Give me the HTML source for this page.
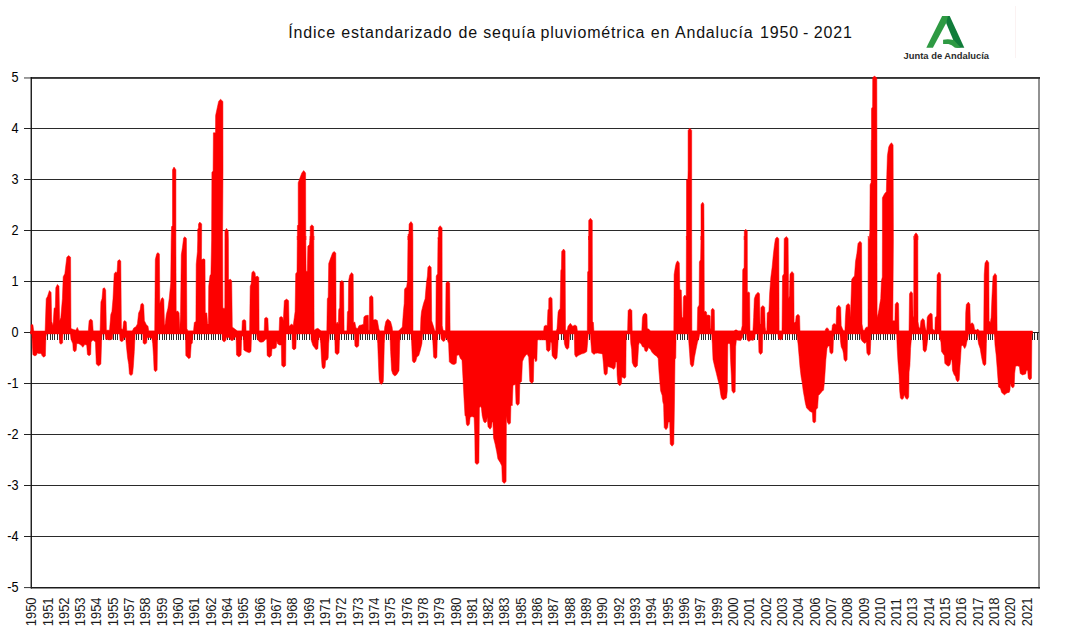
<!DOCTYPE html>
<html><head><meta charset="utf-8"><title>Índice estandarizado de sequía pluviométrica en Andalucía</title>
<style>
html,body{margin:0;padding:0;background:#fff;}
body{width:1072px;height:637px;overflow:hidden;font-family:"Liberation Sans",sans-serif;}
svg{display:block}
text{font-family:"Liberation Sans",sans-serif}
</style></head><body>
<svg width="1072" height="637" viewBox="0 0 1072 637">
<rect width="1072" height="637" fill="#fff"/>
<text id="title" y="37.7" font-size="16" letter-spacing="0.81" fill="#111"><tspan x="288.30">Índice </tspan><tspan x="341.30">estandarizado </tspan><tspan x="458.50">de </tspan><tspan x="483.30">sequía </tspan><tspan x="540.50">pluviométrica </tspan><tspan x="650.80">en </tspan><tspan x="674.95">Andalucía </tspan><tspan x="760.00">1950 </tspan><tspan x="803.10">- </tspan><tspan x="813.80">2021</tspan></text>
<!-- logo -->
<g id="logo">
<path d="M926.3 47.7 L942.1 16.1 L949.7 16.1 L946.2 22.9 L932.9 47.7 Z" fill="#2e9a43"/>
<path d="M948.0 16.1 L949.7 16.1 L964.3 47.7 L956.5 47.7 L946.1 22.9 Z" fill="#107c3a"/>
<path d="M943.1 39.7 Q948.4 38.5 953.8 40.1 L960.8 47.7 L955 47.7 Q951.7 44.7 948.4 44.1 L943.1 44.1 Z" fill="#2e9a43"/>
<path d="M1015.5 6V58" stroke="#fbf2f2" stroke-width="1"/>
<text x="903.6" y="59" font-size="9.2" font-weight="bold" fill="#2b2b2b" textLength="85.5" lengthAdjust="spacingAndGlyphs">Junta de Andalucía</text>
</g>
<!-- plot border -->
<rect x="1038" y="77" width="2" height="511.5" fill="#929292"/>
<rect x="31" y="77" width="1009" height="1.9" fill="#343434"/>
<rect x="24" y="77.2" width="7" height="1.5" fill="#7c7c7c"/>
<!-- gridlines -->
<g stroke="#222" stroke-width="1.2" shape-rendering="crispEdges">
<path d="M31 128.5H1039.4M31 179.5H1039.4M31 230.5H1039.4M31 281.5H1039.4M31 383.5H1039.4M31 434.5H1039.4M31 485.5H1039.4M31 536.5H1039.4" stroke="#2a2a2a" stroke-width="1"/>
</g>
<!-- axes -->
<path d="M31.25 77V588.5" fill="none" stroke="#111" stroke-width="1.35"/>
<rect x="31" y="587" width="1009" height="1.5" fill="#1c1c1c"/>
<rect x="24" y="587.1" width="7" height="1" fill="#333"/>
<path d="M24 128.5H31M24 179.5H31M24 230.5H31M24 281.5H31M24 332.5H31M24 383.5H31M24 434.5H31M24 485.5H31M24 536.5H31" stroke="#222" stroke-width="1.2"/>
<!-- zero line ticks -->
<path d="M31.50 333V339.8M33.83 333V339.8M36.17 333V339.8M38.50 333V339.8M40.83 333V339.8M43.17 333V339.8M45.50 333V339.8M47.83 333V339.8M50.17 333V339.8M52.50 333V339.8M54.83 333V339.8M57.17 333V339.8M59.50 333V339.8M61.83 333V339.8M64.17 333V339.8M66.50 333V339.8M68.83 333V339.8M71.17 333V339.8M73.50 333V339.8M75.83 333V339.8M78.17 333V339.8M80.50 333V339.8M82.83 333V339.8M85.17 333V339.8M87.50 333V339.8M89.83 333V339.8M92.17 333V339.8M94.50 333V339.8M96.83 333V339.8M99.17 333V339.8M101.50 333V339.8M103.83 333V339.8M106.17 333V339.8M108.50 333V339.8M110.83 333V339.8M113.17 333V339.8M115.50 333V339.8M117.83 333V339.8M120.17 333V339.8M122.50 333V339.8M124.83 333V339.8M127.17 333V339.8M129.50 333V339.8M131.83 333V339.8M134.17 333V339.8M136.50 333V339.8M138.83 333V339.8M141.17 333V339.8M143.50 333V339.8M145.83 333V339.8M148.17 333V339.8M150.50 333V339.8M152.83 333V339.8M155.17 333V339.8M157.50 333V339.8M159.83 333V339.8M162.17 333V339.8M164.50 333V339.8M166.83 333V339.8M169.17 333V339.8M171.50 333V339.8M173.83 333V339.8M176.17 333V339.8M178.50 333V339.8M180.83 333V339.8M183.17 333V339.8M185.50 333V339.8M187.83 333V339.8M190.17 333V339.8M192.50 333V339.8M194.83 333V339.8M197.17 333V339.8M199.50 333V339.8M201.83 333V339.8M204.17 333V339.8M206.50 333V339.8M208.83 333V339.8M211.17 333V339.8M213.50 333V339.8M215.83 333V339.8M218.17 333V339.8M220.50 333V339.8M222.83 333V339.8M225.17 333V339.8M227.50 333V339.8M229.83 333V339.8M232.17 333V339.8M234.50 333V339.8M236.83 333V339.8M239.17 333V339.8M241.50 333V339.8M243.83 333V339.8M246.17 333V339.8M248.50 333V339.8M250.83 333V339.8M253.17 333V339.8M255.50 333V339.8M257.83 333V339.8M260.17 333V339.8M262.50 333V339.8M264.83 333V339.8M267.17 333V339.8M269.50 333V339.8M271.83 333V339.8M274.17 333V339.8M276.50 333V339.8M278.83 333V339.8M281.17 333V339.8M283.50 333V339.8M285.83 333V339.8M288.17 333V339.8M290.50 333V339.8M292.83 333V339.8M295.17 333V339.8M297.50 333V339.8M299.83 333V339.8M302.17 333V339.8M304.50 333V339.8M306.83 333V339.8M309.17 333V339.8M311.50 333V339.8M313.83 333V339.8M316.17 333V339.8M318.50 333V339.8M320.83 333V339.8M323.17 333V339.8M325.50 333V339.8M327.83 333V339.8M330.17 333V339.8M332.50 333V339.8M334.83 333V339.8M337.17 333V339.8M339.50 333V339.8M341.83 333V339.8M344.17 333V339.8M346.50 333V339.8M348.83 333V339.8M351.17 333V339.8M353.50 333V339.8M355.83 333V339.8M358.17 333V339.8M360.50 333V339.8M362.83 333V339.8M365.17 333V339.8M367.50 333V339.8M369.83 333V339.8M372.17 333V339.8M374.50 333V339.8M376.83 333V339.8M379.17 333V339.8M381.50 333V339.8M383.83 333V339.8M386.17 333V339.8M388.50 333V339.8M390.83 333V339.8M393.17 333V339.8M395.50 333V339.8M397.83 333V339.8M400.17 333V339.8M402.50 333V339.8M404.83 333V339.8M407.17 333V339.8M409.50 333V339.8M411.83 333V339.8M414.17 333V339.8M416.50 333V339.8M418.83 333V339.8M421.17 333V339.8M423.50 333V339.8M425.83 333V339.8M428.17 333V339.8M430.50 333V339.8M432.83 333V339.8M435.17 333V339.8M437.50 333V339.8M439.83 333V339.8M442.17 333V339.8M444.50 333V339.8M446.83 333V339.8M449.17 333V339.8M451.50 333V339.8M453.83 333V339.8M456.17 333V339.8M458.50 333V339.8M460.83 333V339.8M463.17 333V339.8M465.50 333V339.8M467.83 333V339.8M470.17 333V339.8M472.50 333V339.8M474.83 333V339.8M477.17 333V339.8M479.50 333V339.8M481.83 333V339.8M484.17 333V339.8M486.50 333V339.8M488.83 333V339.8M491.17 333V339.8M493.50 333V339.8M495.83 333V339.8M498.17 333V339.8M500.50 333V339.8M502.83 333V339.8M505.17 333V339.8M507.50 333V339.8M509.83 333V339.8M512.17 333V339.8M514.50 333V339.8M516.83 333V339.8M519.17 333V339.8M521.50 333V339.8M523.83 333V339.8M526.17 333V339.8M528.50 333V339.8M530.83 333V339.8M533.17 333V339.8M535.50 333V339.8M537.83 333V339.8M540.17 333V339.8M542.50 333V339.8M544.83 333V339.8M547.17 333V339.8M549.50 333V339.8M551.83 333V339.8M554.17 333V339.8M556.50 333V339.8M558.83 333V339.8M561.17 333V339.8M563.50 333V339.8M565.83 333V339.8M568.17 333V339.8M570.50 333V339.8M572.83 333V339.8M575.17 333V339.8M577.50 333V339.8M579.83 333V339.8M582.17 333V339.8M584.50 333V339.8M586.83 333V339.8M589.17 333V339.8M591.50 333V339.8M593.83 333V339.8M596.17 333V339.8M598.50 333V339.8M600.83 333V339.8M603.17 333V339.8M605.50 333V339.8M607.83 333V339.8M610.17 333V339.8M612.50 333V339.8M614.83 333V339.8M617.17 333V339.8M619.50 333V339.8M621.83 333V339.8M624.17 333V339.8M626.50 333V339.8M628.83 333V339.8M631.17 333V339.8M633.50 333V339.8M635.83 333V339.8M638.17 333V339.8M640.50 333V339.8M642.83 333V339.8M645.17 333V339.8M647.50 333V339.8M649.83 333V339.8M652.17 333V339.8M654.50 333V339.8M656.83 333V339.8M659.17 333V339.8M661.50 333V339.8M663.83 333V339.8M666.17 333V339.8M668.50 333V339.8M670.83 333V339.8M673.17 333V339.8M675.50 333V339.8M677.83 333V339.8M680.17 333V339.8M682.50 333V339.8M684.83 333V339.8M687.17 333V339.8M689.50 333V339.8M691.83 333V339.8M694.17 333V339.8M696.50 333V339.8M698.83 333V339.8M701.17 333V339.8M703.50 333V339.8M705.83 333V339.8M708.17 333V339.8M710.50 333V339.8M712.83 333V339.8M715.17 333V339.8M717.50 333V339.8M719.83 333V339.8M722.17 333V339.8M724.50 333V339.8M726.83 333V339.8M729.17 333V339.8M731.50 333V339.8M733.83 333V339.8M736.17 333V339.8M738.50 333V339.8M740.83 333V339.8M743.17 333V339.8M745.50 333V339.8M747.83 333V339.8M750.17 333V339.8M752.50 333V339.8M754.83 333V339.8M757.17 333V339.8M759.50 333V339.8M761.83 333V339.8M764.17 333V339.8M766.50 333V339.8M768.83 333V339.8M771.17 333V339.8M773.50 333V339.8M775.83 333V339.8M778.17 333V339.8M780.50 333V339.8M782.83 333V339.8M785.17 333V339.8M787.50 333V339.8M789.83 333V339.8M792.17 333V339.8M794.50 333V339.8M796.83 333V339.8M799.17 333V339.8M801.50 333V339.8M803.83 333V339.8M806.17 333V339.8M808.50 333V339.8M810.83 333V339.8M813.17 333V339.8M815.50 333V339.8M817.83 333V339.8M820.17 333V339.8M822.50 333V339.8M824.83 333V339.8M827.17 333V339.8M829.50 333V339.8M831.83 333V339.8M834.17 333V339.8M836.50 333V339.8M838.83 333V339.8M841.17 333V339.8M843.50 333V339.8M845.83 333V339.8M848.17 333V339.8M850.50 333V339.8M852.83 333V339.8M855.17 333V339.8M857.50 333V339.8M859.83 333V339.8M862.17 333V339.8M864.50 333V339.8M866.83 333V339.8M869.17 333V339.8M871.50 333V339.8M873.83 333V339.8M876.17 333V339.8M878.50 333V339.8M880.83 333V339.8M883.17 333V339.8M885.50 333V339.8M887.83 333V339.8M890.17 333V339.8M892.50 333V339.8M894.83 333V339.8M897.17 333V339.8M899.50 333V339.8M901.83 333V339.8M904.17 333V339.8M906.50 333V339.8M908.83 333V339.8M911.17 333V339.8M913.50 333V339.8M915.83 333V339.8M918.17 333V339.8M920.50 333V339.8M922.83 333V339.8M925.17 333V339.8M927.50 333V339.8M929.83 333V339.8M932.17 333V339.8M934.50 333V339.8M936.83 333V339.8M939.17 333V339.8M941.50 333V339.8M943.83 333V339.8M946.17 333V339.8M948.50 333V339.8M950.83 333V339.8M953.17 333V339.8M955.50 333V339.8M957.83 333V339.8M960.17 333V339.8M962.50 333V339.8M964.83 333V339.8M967.17 333V339.8M969.50 333V339.8M971.83 333V339.8M974.17 333V339.8M976.50 333V339.8M978.83 333V339.8M981.17 333V339.8M983.50 333V339.8M985.83 333V339.8M988.17 333V339.8M990.50 333V339.8M992.83 333V339.8M995.17 333V339.8M997.50 333V339.8M999.83 333V339.8M1002.17 333V339.8M1004.50 333V339.8M1006.83 333V339.8M1009.17 333V339.8M1011.50 333V339.8M1013.83 333V339.8M1016.17 333V339.8M1018.50 333V339.8M1020.83 333V339.8M1023.17 333V339.8M1025.50 333V339.8M1027.83 333V339.8M1030.17 333V339.8M1032.50 333V339.8M1034.83 333V339.8M1037.17 333V339.8" stroke="#2a2a2a" stroke-width="1" shape-rendering="crispEdges"/>
<path d="M31 332.5H1039" stroke="#222" stroke-width="1.2"/>
<!-- data -->
<g fill="#fd0000" stroke="#fd0000" stroke-width="0.5" stroke-linejoin="round">
<path d="M30.5 331H1032.5V333.9H30.5Z"/>
<path d="M31.0 332.5 L31.0 324.7 L32.9 324.7 L33.8 331.5 L45.1 331.5 L46.2 298.8 L47.5 296.4 L49.4 290.6 L51.1 292.5 L51.7 321.6 L53.0 325.5 L54.1 308.2 L55.3 307.4 L55.8 287.8 L57.4 284.4 L59.0 286.2 L59.6 320.8 L60.8 317.6 L62.4 298.8 L63.2 276.8 L64.8 273.7 L66.8 257.2 L68.7 255.6 L70.6 257.2 L71.0 328.6 L73.4 329.4 L75.8 330.2 L77.3 327.4 L78.9 331.0 L88.3 331.0 L89.1 320.8 L90.7 318.9 L92.5 320.8 L93.2 331.0 L100.1 331.0 L100.9 301.9 L102.0 298.8 L102.9 288.6 L104.5 287.8 L105.7 290.2 L106.4 330.2 L109.5 330.2 L110.8 314.5 L111.9 311.4 L113.0 298.8 L114.2 273.7 L115.8 271.8 L117.0 272.9 L117.7 261.1 L119.2 259.6 L120.8 261.1 L121.4 328.6 L122.8 329.4 L123.6 321.6 L124.9 320.5 L126.3 322.0 L126.8 331.0 L132.3 331.0 L133.8 327.9 L135.9 326.8 L137.4 323.9 L138.6 312.9 L140.1 309.8 L140.9 304.3 L142.5 303.2 L143.7 305.1 L144.4 320.8 L146.4 324.7 L148.0 326.3 L148.8 331.0 L154.7 331.0 L155.3 259.6 L156.6 254.1 L157.9 252.6 L159.4 254.1 L159.8 303.5 L161.3 298.8 L162.6 297.6 L163.8 299.6 L164.5 325.5 L165.2 323.9 L166.3 314.5 L167.9 308.2 L169.2 298.8 L170.7 283.1 L171.2 240.0 L171.5 226.7 L172.5 225.6 L172.5 169.8 L174.0 167.0 L175.9 169.8 L175.9 240.0 L176.2 311.4 L177.8 311.1 L179.1 312.9 L179.7 330.2 L180.5 314.5 L181.3 254.8 L182.5 247.0 L183.6 237.9 L184.9 236.8 L186.4 238.4 L186.9 328.6 L188.0 331.0 L193.5 331.0 L194.3 322.4 L195.9 321.6 L196.2 264.3 L197.4 251.7 L197.7 240.0 L197.7 229.2 L198.5 227.9 L198.5 224.0 L199.8 222.1 L201.7 224.0 L201.5 259.6 L201.8 259.6 L203.7 258.8 L205.0 259.6 L205.3 312.9 L206.8 312.9 L207.6 323.9 L208.4 323.9 L208.7 286.2 L210.0 275.2 L210.9 274.5 L211.6 240.0 L211.9 172.2 L213.1 171.1 L213.4 132.8 L213.4 132.8 L215.5 132.8 L215.6 115.5 L218.6 101.4 L220.5 99.2 L222.9 101.4 L223.0 170.0 L222.6 236.0 L222.9 308.2 L224.8 308.2 L224.9 236.0 L224.9 231.1 L226.5 228.4 L228.2 231.1 L228.4 240.0 L228.5 280.0 L230.4 279.2 L231.7 280.8 L232.3 327.1 L237.5 331.0 L241.9 331.0 L242.3 320.8 L244.1 319.5 L245.8 320.8 L246.1 331.0 L249.6 331.0 L250.2 286.2 L251.1 283.9 L251.9 272.4 L253.5 270.9 L255.1 272.9 L255.5 277.1 L257.4 276.0 L258.8 277.6 L259.1 331.0 L264.2 331.0 L264.6 318.4 L266.2 317.2 L267.9 318.4 L268.4 331.0 L279.1 331.0 L279.6 317.6 L281.1 316.4 L282.7 317.6 L283.3 320.8 L284.3 300.7 L286.6 299.1 L288.6 300.7 L289.1 326.3 L291.6 323.9 L293.2 325.5 L294.3 317.6 L295.1 311.4 L295.7 273.7 L297.0 272.1 L297.3 236.0 L297.4 240.0 L297.4 225.6 L298.2 224.8 L298.2 182.7 L301.8 173.0 L303.7 170.6 L305.6 173.0 L305.8 240.0 L305.8 236.0 L306.1 271.3 L307.3 271.3 L307.8 246.2 L309.4 244.6 L310.2 236.0 L310.2 240.0 L310.2 226.4 L311.9 224.8 L313.6 226.4 L313.8 240.0 L313.8 236.0 L314.1 330.2 L316.0 328.9 L317.9 328.3 L320.2 330.2 L321.5 331.0 L326.8 331.0 L327.3 298.8 L328.2 297.2 L328.7 263.5 L330.1 259.6 L331.4 256.1 L332.5 253.0 L334.0 251.4 L335.8 253.0 L336.1 323.9 L337.2 322.0 L338.3 323.9 L338.7 309.8 L339.7 307.4 L340.0 282.3 L341.9 280.4 L343.6 282.3 L344.1 331.0 L346.9 331.0 L347.4 312.1 L348.3 310.6 L348.6 280.8 L349.7 275.2 L351.6 272.6 L353.2 274.5 L353.5 322.4 L354.8 322.0 L356.0 327.9 L357.6 328.6 L359.1 325.5 L361.5 324.9 L363.4 324.2 L363.9 316.9 L365.1 315.8 L367.0 315.3 L367.0 315.3 L368.3 315.3 L368.6 330.2 L369.2 330.2 L369.5 297.2 L371.2 295.4 L373.0 297.2 L373.3 320.0 L375.6 319.5 L377.4 320.5 L378.8 328.6 L379.6 331.0 L384.3 331.0 L384.7 327.1 L385.8 321.6 L387.7 318.9 L390.6 321.6 L392.1 327.1 L392.6 331.0 L398.4 331.0 L399.2 330.2 L402.3 327.1 L403.4 311.4 L404.2 303.5 L404.5 289.4 L405.5 287.8 L406.6 287.2 L407.5 280.0 L408.0 236.0 L408.1 240.0 L408.1 234.2 L408.9 233.4 L409.1 224.0 L411.0 221.6 L412.7 224.0 L412.9 240.0 L413.0 331.0 L420.4 331.0 L420.9 317.6 L421.5 311.4 L423.5 303.5 L425.1 298.8 L426.4 283.1 L427.4 276.0 L427.9 267.4 L429.5 265.5 L431.2 267.4 L431.7 320.8 L433.7 327.1 L434.8 331.0 L435.8 331.0 L436.2 276.0 L437.6 273.7 L438.0 237.6 L437.5 238.1 L438.4 237.3 L438.4 227.9 L440.2 225.7 L442.1 227.9 L442.1 240.0 L442.2 325.5 L443.1 330.2 L445.5 331.0 L446.0 283.1 L447.9 281.2 L449.7 283.1 L450.1 331.0 L543.6 331.0 L544.1 326.3 L545.7 325.2 L547.2 325.8 L547.9 309.8 L548.7 309.0 L548.8 298.5 L550.4 296.9 L552.1 298.5 L552.6 331.0 L556.2 331.0 L557.0 328.6 L558.1 312.1 L559.0 309.8 L560.1 309.0 L560.8 270.5 L561.4 269.0 L561.7 251.4 L563.6 249.0 L565.1 251.1 L565.5 330.2 L567.2 330.2 L568.0 326.3 L570.3 323.3 L572.7 326.3 L575.0 324.9 L576.8 326.3 L577.4 331.0 L587.3 331.0 L587.6 272.1 L588.4 270.9 L588.5 236.0 L588.7 240.0 L588.7 220.4 L590.4 218.2 L592.3 220.4 L592.3 240.0 L592.5 321.6 L593.4 322.4 L593.9 331.0 L627.6 331.0 L628.1 310.6 L630.0 308.7 L631.9 310.6 L632.2 331.0 L641.8 331.0 L642.4 317.6 L643.3 314.5 L645.2 313.1 L647.0 314.5 L647.3 328.6 L648.8 329.1 L650.4 331.0 L673.8 331.0 L674.1 274.5 L675.5 265.8 L676.3 262.7 L677.6 260.8 L679.3 263.0 L679.8 289.4 L681.3 290.2 L682.0 317.6 L683.1 317.6 L683.4 296.9 L684.9 295.0 L686.2 296.4 L686.4 236.0 L686.5 240.0 L686.5 180.0 L687.9 179.2 L688.1 170.0 L688.1 130.4 L689.8 128.1 L691.7 130.4 L691.7 170.0 L691.7 236.0 L691.9 331.0 L697.2 331.0 L697.7 307.4 L699.1 305.1 L699.4 261.9 L700.6 259.6 L701.0 236.0 L701.0 240.0 L701.0 204.7 L702.1 202.8 L703.0 202.5 L703.9 204.4 L704.1 240.0 L704.3 312.1 L705.2 311.1 L706.5 312.1 L706.8 315.3 L708.5 315.0 L710.1 315.8 L710.5 328.6 L711.0 328.6 L711.2 310.1 L712.7 308.2 L714.3 310.1 L714.6 331.0 L734.1 331.0 L735.2 329.9 L736.8 329.9 L737.9 331.0 L741.1 331.0 L742.2 325.5 L742.7 269.8 L744.1 267.4 L744.3 236.0 L744.3 240.0 L744.3 231.1 L745.7 229.2 L747.3 231.1 L747.3 240.0 L747.4 292.5 L748.5 291.9 L749.6 292.8 L750.0 331.0 L752.9 331.0 L753.6 317.6 L754.3 298.8 L755.6 294.9 L758.0 292.2 L759.5 293.8 L760.0 323.9 L760.6 323.9 L760.9 307.4 L763.0 305.6 L764.7 307.4 L765.2 327.1 L765.8 331.0 L766.8 331.0 L767.2 312.9 L768.9 311.4 L769.6 294.1 L770.8 277.6 L772.1 267.4 L773.3 254.8 L774.4 245.4 L775.4 238.7 L777.1 236.9 L778.8 238.7 L779.1 331.0 L782.0 331.0 L782.5 276.0 L783.9 273.7 L784.2 238.7 L786.2 236.5 L788.1 238.4 L788.6 298.8 L789.4 295.7 L790.0 274.0 L792.0 271.5 L793.8 273.7 L794.1 323.1 L795.6 321.6 L796.1 316.1 L798.0 314.2 L799.6 316.1 L800.0 331.0 L825.1 331.0 L825.6 328.9 L827.0 327.7 L828.5 328.9 L828.9 331.0 L831.8 331.0 L832.4 325.0 L834.1 323.4 L836.1 324.7 L836.6 307.8 L838.8 305.2 L840.7 307.4 L841.2 325.5 L842.4 328.6 L843.5 330.7 L844.9 330.7 L845.4 317.6 L846.2 305.4 L848.2 303.5 L849.8 305.1 L850.3 317.6 L850.8 306.6 L851.7 279.6 L852.9 277.6 L854.5 276.0 L855.5 261.4 L856.9 253.3 L858.0 243.4 L860.0 241.2 L861.6 243.1 L862.0 323.9 L863.1 330.2 L864.7 330.2 L865.5 327.9 L867.1 326.8 L868.0 327.4 L868.2 236.0 L869.0 240.0 L869.8 232.6 L870.1 184.8 L871.1 182.4 L871.2 140.0 L871.5 139.9 L871.5 108.5 L872.6 106.9 L872.7 77.8 L874.3 76.0 L876.8 77.8 L877.0 170.0 L877.0 236.0 L877.1 317.6 L878.1 313.7 L878.9 309.8 L879.6 305.1 L880.7 298.8 L881.4 280.8 L882.3 277.1 L882.4 240.0 L882.4 197.8 L884.7 193.4 L886.3 191.8 L886.8 174.5 L887.4 155.7 L888.7 147.1 L889.9 144.4 L891.5 142.8 L893.1 145.0 L893.4 240.0 L892.8 320.8 L894.9 320.8 L895.2 304.3 L897.1 301.9 L898.6 303.8 L899.0 331.0 L909.0 331.0 L909.5 293.8 L911.0 291.4 L912.6 293.3 L913.1 317.6 L913.7 316.1 L913.9 236.0 L914.3 240.0 L914.3 235.0 L916.0 232.8 L917.7 235.0 L917.7 240.0 L917.8 236.0 L918.0 321.6 L918.9 327.1 L920.0 328.6 L920.9 320.8 L922.8 318.4 L924.4 320.3 L925.2 327.1 L926.0 330.2 L926.7 330.2 L927.2 317.6 L928.3 315.3 L930.7 312.9 L932.2 314.5 L932.7 328.6 L933.8 330.2 L934.9 330.2 L935.2 317.6 L936.6 316.1 L937.1 274.9 L939.0 272.1 L940.7 274.5 L941.0 331.0 L965.4 331.0 L965.7 312.9 L966.3 304.6 L968.4 302.1 L969.9 304.3 L970.4 323.9 L972.3 322.8 L973.8 324.7 L974.6 329.4 L976.2 330.2 L977.8 329.1 L979.3 331.0 L983.7 331.0 L984.2 274.5 L985.0 263.0 L986.9 260.0 L988.8 262.7 L989.1 320.8 L990.3 322.4 L991.1 317.6 L992.0 296.0 L993.0 276.5 L995.0 273.4 L996.6 275.6 L997.1 331.0 L997.1 332.5 Z"/>
<path d="M31.8 332.5 L31.8 332.5 L32.3 343.7 L32.9 354.7 L34.9 355.9 L36.6 355.0 L37.1 353.1 L38.9 353.6 L40.7 353.4 L41.5 354.1 L42.0 355.6 L43.6 357.2 L45.4 355.9 L45.9 337.4 L46.7 332.5 L59.3 332.5 L59.6 342.9 L60.8 344.3 L62.6 342.9 L63.0 332.5 L70.2 332.5 L71.0 339.3 L72.8 343.7 L73.2 350.3 L74.7 351.9 L76.2 350.3 L76.8 343.4 L78.9 343.7 L81.2 345.3 L82.8 347.3 L84.8 344.5 L86.7 345.0 L87.4 354.4 L89.1 355.8 L90.7 354.4 L91.1 342.1 L93.0 339.9 L95.4 342.1 L96.3 364.1 L98.5 366.0 L100.9 364.1 L101.7 337.4 L102.4 332.5 L104.8 332.5 L105.6 339.3 L109.5 339.9 L112.3 339.3 L113.0 332.5 L119.4 332.5 L120.0 340.6 L121.8 341.7 L123.3 340.6 L124.0 337.4 L125.7 337.4 L126.3 345.3 L127.6 357.8 L128.7 364.4 L129.4 373.9 L131.0 375.6 L132.6 373.9 L133.4 365.7 L134.3 351.6 L135.2 332.5 L142.8 332.5 L143.1 343.1 L144.8 344.3 L146.6 343.1 L147.2 337.7 L149.5 337.4 L151.9 338.4 L152.7 343.7 L153.5 356.3 L154.1 370.1 L155.5 371.8 L157.1 370.1 L157.6 332.5 L185.5 332.5 L185.8 355.5 L187.2 357.1 L188.8 358.8 L190.4 357.5 L191.2 344.5 L192.4 342.9 L192.9 332.5 L221.9 332.5 L222.6 340.6 L224.1 342.0 L225.8 340.6 L226.5 337.4 L229.6 337.4 L230.4 339.8 L232.0 340.7 L233.7 339.8 L234.3 337.4 L236.1 337.1 L236.5 355.0 L238.9 356.9 L241.1 355.0 L241.7 336.2 L243.3 335.9 L243.8 350.0 L246.1 351.6 L249.2 352.8 L251.0 351.6 L251.6 332.5 L256.3 332.5 L257.1 339.0 L259.4 341.8 L261.0 342.3 L263.4 341.8 L265.7 339.3 L266.8 339.3 L267.1 355.5 L269.3 357.4 L271.5 355.5 L272.0 348.7 L274.4 348.7 L276.2 347.6 L276.9 340.9 L277.5 343.7 L279.4 345.0 L281.3 345.0 L281.7 365.4 L283.8 367.2 L285.7 365.4 L286.0 332.5 L291.9 332.5 L292.3 348.4 L294.0 350.0 L295.9 348.4 L296.4 332.5 L310.8 332.5 L311.3 340.6 L312.8 345.3 L314.4 347.6 L316.0 349.7 L317.9 348.7 L318.5 337.7 L319.9 337.4 L320.7 343.7 L321.5 359.4 L322.1 367.2 L323.5 369.0 L325.1 367.2 L325.6 360.5 L327.4 359.7 L328.2 357.8 L328.7 343.7 L329.6 332.5 L334.7 332.5 L335.1 352.8 L337.2 354.7 L339.1 352.8 L339.7 332.5 L354.4 332.5 L354.9 345.9 L356.8 347.5 L358.7 345.9 L359.3 332.5 L376.7 332.5 L377.7 343.7 L378.3 359.4 L379.1 379.8 L380.0 382.9 L381.1 384.4 L382.7 382.9 L383.3 381.4 L383.6 373.5 L384.3 343.7 L385.1 332.5 L389.9 332.5 L390.6 351.6 L391.6 370.4 L392.9 374.3 L394.9 376.0 L396.8 374.5 L399.0 370.7 L399.7 343.7 L400.3 332.5 L411.1 332.5 L411.8 346.8 L412.4 361.0 L414.1 363.0 L415.8 361.3 L416.9 357.1 L418.8 355.5 L420.4 350.0 L421.9 343.7 L422.7 332.5 L432.3 332.5 L432.9 343.7 L433.6 357.1 L435.3 358.8 L436.9 357.2 L437.3 337.4 L438.0 332.5 L440.5 332.5 L441.1 339.0 L443.1 341.5 L445.0 340.6 L445.5 337.4 L447.1 339.0 L448.6 343.7 L449.3 361.8 L451.0 363.5 L452.6 364.3 L454.1 364.6 L456.2 363.3 L456.8 355.5 L458.9 354.7 L460.4 358.6 L462.0 360.2 L462.8 375.1 L464.0 398.6 L465.0 415.9 L465.7 415.7 L466.4 424.3 L467.8 426.1 L469.5 423.9 L470.1 417.3 L472.0 416.5 L474.1 417.3 L474.8 436.1 L475.1 462.8 L477.0 464.5 L478.9 462.8 L479.4 407.9 L480.3 406.3 L481.4 407.9 L482.2 415.7 L483.5 421.2 L485.0 422.9 L486.6 421.4 L487.2 417.3 L488.0 426.7 L490.1 429.2 L491.6 427.0 L492.1 422.0 L492.9 422.0 L493.5 437.7 L495.1 444.0 L496.7 451.8 L497.9 458.9 L500.3 462.8 L501.8 465.9 L502.3 481.6 L504.2 483.4 L506.1 481.6 L506.4 415.7 L507.2 422.0 L508.9 424.5 L510.5 422.9 L510.9 406.3 L512.0 404.7 L512.2 405.7 L513.0 385.3 L515.4 384.5 L516.0 403.4 L517.7 405.4 L519.3 403.5 L519.8 382.9 L521.6 381.4 L522.4 361.8 L524.0 357.8 L525.6 355.5 L527.1 353.9 L528.7 357.1 L529.8 381.4 L531.9 383.4 L533.4 381.5 L533.9 359.4 L535.0 357.8 L535.0 360.2 L535.8 361.8 L536.9 360.2 L537.4 340.6 L538.1 339.8 L546.0 339.9 L546.5 350.0 L548.4 351.7 L550.1 350.0 L550.5 342.1 L551.6 342.9 L552.1 355.5 L553.8 358.1 L555.4 359.6 L557.0 357.8 L557.8 346.8 L558.5 332.5 L563.7 332.5 L564.4 343.7 L565.5 347.6 L567.2 349.4 L568.9 347.6 L569.4 337.4 L569.9 332.5 L574.2 332.5 L574.7 354.7 L576.1 357.2 L578.2 355.6 L581.3 354.1 L584.5 353.1 L586.8 351.6 L587.4 345.3 L588.4 332.5 L590.3 332.5 L591.0 343.7 L591.7 352.3 L593.9 354.5 L595.5 353.3 L597.8 353.1 L602.5 353.9 L603.5 364.9 L604.1 373.5 L605.6 375.3 L607.2 373.5 L607.7 366.5 L610.0 367.2 L611.9 368.0 L613.8 369.3 L615.2 367.2 L615.7 361.9 L616.8 361.9 L617.1 375.1 L617.9 383.7 L619.8 385.8 L621.5 383.7 L621.8 376.7 L622.9 377.6 L624.5 378.4 L625.8 377.0 L626.2 332.5 L630.1 332.5 L630.8 343.7 L631.6 349.2 L632.2 362.5 L633.9 366.5 L635.5 367.4 L637.4 365.7 L637.8 359.4 L638.6 345.3 L639.4 342.4 L641.0 343.7 L642.5 346.8 L644.1 347.2 L644.9 350.8 L646.5 351.7 L647.7 350.0 L648.4 347.6 L650.4 349.2 L652.0 352.3 L654.3 354.7 L656.7 356.3 L658.2 358.6 L659.0 372.0 L659.8 381.4 L660.6 390.8 L662.2 395.5 L662.8 401.8 L663.6 404.7 L663.8 412.6 L664.2 427.5 L666.0 429.7 L667.7 427.6 L668.3 422.0 L669.7 422.0 L670.2 444.0 L672.1 446.2 L673.8 444.1 L674.5 400.0 L675.0 359.4 L675.8 357.8 L676.1 332.5 L688.2 332.5 L688.9 343.7 L689.6 353.1 L690.3 364.1 L692.0 367.1 L693.6 365.1 L694.4 357.8 L695.9 350.0 L697.5 342.1 L699.1 337.4 L699.9 332.5 L711.6 332.5 L712.3 343.7 L713.0 359.4 L714.8 367.2 L716.4 373.5 L717.9 379.8 L719.5 386.1 L720.6 393.9 L721.4 397.9 L723.1 399.9 L725.0 398.8 L726.5 398.0 L727.3 390.8 L727.8 344.5 L728.9 342.9 L730.0 344.5 L730.5 359.4 L731.3 375.1 L731.9 390.8 L733.6 393.3 L735.2 391.6 L735.7 346.8 L736.4 339.9 L740.7 340.6 L742.6 337.4 L743.2 332.5 L746.3 332.5 L747.0 339.8 L748.9 341.5 L750.9 339.9 L753.2 340.4 L754.8 337.4 L755.4 332.5 L758.4 332.5 L758.9 352.3 L760.6 354.5 L762.4 352.5 L762.8 332.5 L777.7 332.5 L778.4 338.7 L780.2 339.9 L782.3 339.0 L783.1 332.5 L796.7 332.5 L797.2 337.4 L798.0 343.7 L799.1 356.3 L800.0 367.2 L801.1 376.7 L802.2 382.9 L803.2 390.8 L804.3 397.1 L805.4 403.4 L806.6 408.1 L808.2 409.6 L809.8 411.2 L811.3 412.0 L812.4 412.8 L812.8 421.4 L814.2 423.1 L815.7 421.6 L816.0 409.6 L817.6 408.1 L818.4 395.5 L820.0 393.9 L821.1 392.4 L822.0 391.6 L823.6 390.0 L824.4 382.2 L825.1 372.0 L825.9 359.4 L827.0 348.4 L828.1 346.1 L829.4 346.1 L829.9 352.3 L831.4 354.1 L833.0 352.5 L833.5 337.4 L834.6 332.5 L839.8 332.5 L840.4 340.6 L841.2 346.8 L842.7 350.0 L843.5 353.9 L844.0 359.4 L845.6 361.6 L847.1 359.6 L847.6 332.5 L860.3 332.5 L860.8 339.0 L862.4 341.4 L864.7 343.4 L866.3 342.1 L866.9 353.1 L868.6 355.6 L870.2 354.1 L870.7 343.7 L871.0 332.5 L896.6 332.5 L897.2 348.4 L898.0 362.5 L899.0 375.1 L899.7 390.8 L900.4 397.9 L901.9 399.6 L903.5 398.2 L904.1 394.7 L904.8 396.3 L905.9 398.6 L907.4 399.3 L908.7 397.1 L909.1 372.0 L909.9 365.7 L910.6 348.4 L911.5 337.4 L912.1 332.5 L922.5 332.5 L923.1 350.0 L924.9 352.2 L926.4 350.1 L927.2 343.7 L928.3 332.5 L939.0 332.5 L939.6 337.4 L940.9 342.1 L941.5 351.6 L943.2 353.9 L944.3 355.5 L944.8 363.3 L946.4 364.9 L948.2 366.3 L950.0 364.9 L951.1 360.2 L951.9 359.4 L952.5 370.4 L953.9 374.3 L955.5 376.7 L956.1 379.8 L957.7 381.9 L959.2 380.0 L959.9 367.2 L960.5 359.4 L961.3 346.1 L962.9 345.3 L963.6 346.8 L964.7 348.6 L966.0 346.1 L966.8 342.1 L968.0 337.4 L968.7 332.5 L976.5 332.5 L977.8 339.0 L978.5 343.7 L980.1 348.4 L981.4 356.3 L982.5 361.8 L983.0 364.1 L984.4 365.8 L985.9 364.1 L986.4 343.7 L986.9 332.5 L993.9 332.5 L994.6 337.4 L995.0 345.3 L996.1 354.7 L997.1 367.2 L997.9 378.2 L998.5 386.9 L1000.5 388.4 L1001.6 392.4 L1002.9 393.6 L1004.5 394.9 L1006.0 393.6 L1007.6 392.7 L1009.2 392.4 L1010.0 390.0 L1010.4 382.2 L1011.0 386.1 L1012.8 388.1 L1014.2 386.2 L1014.7 373.5 L1015.5 366.5 L1017.0 365.7 L1019.4 366.5 L1020.2 373.5 L1022.5 374.9 L1025.7 373.9 L1026.4 370.4 L1027.7 370.4 L1028.2 378.2 L1029.9 380.0 L1031.5 378.2 L1031.9 332.5 L1031.9 332.5 Z"/>
</g>
<!-- y labels -->
<g font-size="14.4" text-anchor="end"><text transform="translate(18.6,82.1) scale(0.88,1)">5</text><text transform="translate(18.6,133.1) scale(0.88,1)">4</text><text transform="translate(18.6,184.1) scale(0.88,1)">3</text><text transform="translate(18.6,235.1) scale(0.88,1)">2</text><text transform="translate(18.6,286.1) scale(0.88,1)">1</text><text transform="translate(18.6,337.1) scale(0.88,1)">0</text><text transform="translate(18.6,388.1) scale(0.88,1)">-1</text><text transform="translate(18.6,439.1) scale(0.88,1)">-2</text><text transform="translate(18.6,490.1) scale(0.88,1)">-3</text><text transform="translate(18.6,541.1) scale(0.88,1)">-4</text><text transform="translate(18.6,592.1) scale(0.88,1)">-5</text></g>
<g font-size="14.6" fill="#1c1c1c"><text transform="translate(36.20,626.3) rotate(-90) scale(0.89,1)" >1950</text><text transform="translate(52.52,626.3) rotate(-90) scale(0.89,1)" >1951</text><text transform="translate(68.84,626.3) rotate(-90) scale(0.89,1)" >1952</text><text transform="translate(85.16,626.3) rotate(-90) scale(0.89,1)" >1953</text><text transform="translate(101.48,626.3) rotate(-90) scale(0.89,1)" >1954</text><text transform="translate(117.80,626.3) rotate(-90) scale(0.89,1)" >1955</text><text transform="translate(134.12,626.3) rotate(-90) scale(0.89,1)" >1957</text><text transform="translate(150.44,626.3) rotate(-90) scale(0.89,1)" >1958</text><text transform="translate(166.76,626.3) rotate(-90) scale(0.89,1)" >1959</text><text transform="translate(183.08,626.3) rotate(-90) scale(0.89,1)" >1960</text><text transform="translate(199.40,626.3) rotate(-90) scale(0.89,1)" >1961</text><text transform="translate(215.72,626.3) rotate(-90) scale(0.89,1)" >1962</text><text transform="translate(232.04,626.3) rotate(-90) scale(0.89,1)" >1964</text><text transform="translate(248.36,626.3) rotate(-90) scale(0.89,1)" >1965</text><text transform="translate(264.68,626.3) rotate(-90) scale(0.89,1)" >1966</text><text transform="translate(281.00,626.3) rotate(-90) scale(0.89,1)" >1967</text><text transform="translate(297.32,626.3) rotate(-90) scale(0.89,1)" >1968</text><text transform="translate(313.64,626.3) rotate(-90) scale(0.89,1)" >1969</text><text transform="translate(329.96,626.3) rotate(-90) scale(0.89,1)" >1971</text><text transform="translate(346.28,626.3) rotate(-90) scale(0.89,1)" >1972</text><text transform="translate(362.60,626.3) rotate(-90) scale(0.89,1)" >1973</text><text transform="translate(378.92,626.3) rotate(-90) scale(0.89,1)" >1974</text><text transform="translate(395.24,626.3) rotate(-90) scale(0.89,1)" >1975</text><text transform="translate(411.56,626.3) rotate(-90) scale(0.89,1)" >1976</text><text transform="translate(427.88,626.3) rotate(-90) scale(0.89,1)" >1978</text><text transform="translate(444.20,626.3) rotate(-90) scale(0.89,1)" >1979</text><text transform="translate(460.52,626.3) rotate(-90) scale(0.89,1)" >1980</text><text transform="translate(476.84,626.3) rotate(-90) scale(0.89,1)" >1981</text><text transform="translate(493.16,626.3) rotate(-90) scale(0.89,1)" >1982</text><text transform="translate(509.48,626.3) rotate(-90) scale(0.89,1)" >1983</text><text transform="translate(525.80,626.3) rotate(-90) scale(0.89,1)" >1985</text><text transform="translate(542.12,626.3) rotate(-90) scale(0.89,1)" >1986</text><text transform="translate(558.44,626.3) rotate(-90) scale(0.89,1)" >1987</text><text transform="translate(574.76,626.3) rotate(-90) scale(0.89,1)" >1988</text><text transform="translate(591.08,626.3) rotate(-90) scale(0.89,1)" >1989</text><text transform="translate(607.40,626.3) rotate(-90) scale(0.89,1)" >1990</text><text transform="translate(623.72,626.3) rotate(-90) scale(0.89,1)" >1992</text><text transform="translate(640.04,626.3) rotate(-90) scale(0.89,1)" >1993</text><text transform="translate(656.36,626.3) rotate(-90) scale(0.89,1)" >1994</text><text transform="translate(672.68,626.3) rotate(-90) scale(0.89,1)" >1995</text><text transform="translate(689.00,626.3) rotate(-90) scale(0.89,1)" >1996</text><text transform="translate(705.32,626.3) rotate(-90) scale(0.89,1)" >1997</text><text transform="translate(721.64,626.3) rotate(-90) scale(0.89,1)" >1999</text><text transform="translate(737.96,626.3) rotate(-90) scale(0.89,1)" >2000</text><text transform="translate(754.28,626.3) rotate(-90) scale(0.89,1)" >2001</text><text transform="translate(770.60,626.3) rotate(-90) scale(0.89,1)" >2002</text><text transform="translate(786.92,626.3) rotate(-90) scale(0.89,1)" >2003</text><text transform="translate(803.24,626.3) rotate(-90) scale(0.89,1)" >2004</text><text transform="translate(819.56,626.3) rotate(-90) scale(0.89,1)" >2006</text><text transform="translate(835.88,626.3) rotate(-90) scale(0.89,1)" >2007</text><text transform="translate(852.20,626.3) rotate(-90) scale(0.89,1)" >2008</text><text transform="translate(868.52,626.3) rotate(-90) scale(0.89,1)" >2009</text><text transform="translate(884.84,626.3) rotate(-90) scale(0.89,1)" >2010</text><text transform="translate(901.16,626.3) rotate(-90) scale(0.89,1)" >2011</text><text transform="translate(917.48,626.3) rotate(-90) scale(0.89,1)" >2013</text><text transform="translate(933.80,626.3) rotate(-90) scale(0.89,1)" >2014</text><text transform="translate(950.12,626.3) rotate(-90) scale(0.89,1)" >2015</text><text transform="translate(966.44,626.3) rotate(-90) scale(0.89,1)" >2016</text><text transform="translate(982.76,626.3) rotate(-90) scale(0.89,1)" >2017</text><text transform="translate(999.08,626.3) rotate(-90) scale(0.89,1)" >2018</text><text transform="translate(1015.40,626.3) rotate(-90) scale(0.89,1)" >2020</text><text transform="translate(1031.72,626.3) rotate(-90) scale(0.89,1)" >2021</text></g>
</svg>
</body></html>
